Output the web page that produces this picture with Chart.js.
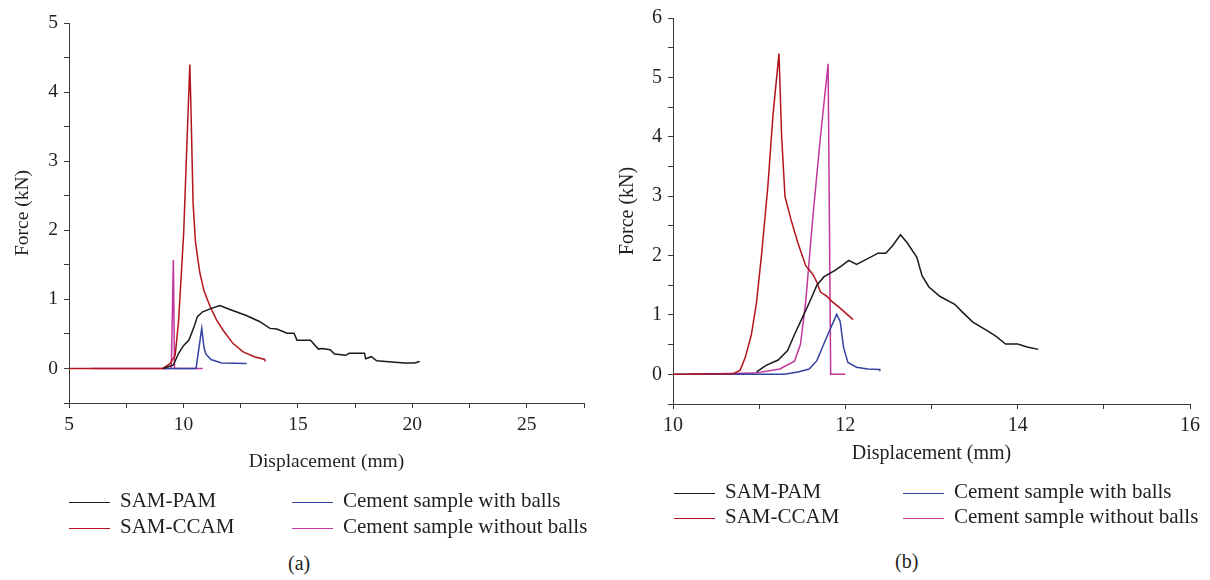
<!DOCTYPE html>
<html>
<head>
<meta charset="utf-8">
<script src="https://cdn.jsdelivr.net/npm/chart.js@4.4.0/dist/chart.umd.min.js"></script>
<style>
  body { margin: 0; background: #fff; width: 1210px; height: 580px; position: relative; overflow: hidden;
         font-family: "Liberation Serif", "DejaVu Serif", serif; color: #231f20; }
  canvas { position: absolute; top: 0; }
  .item { position: absolute; white-space: nowrap; }
  .swatch { position: absolute; height: 0; border-top: 1.5px solid; }
  .cap { position: absolute; white-space: nowrap; }
</style>
</head>
<body>
<canvas id="left" width="600" height="480" style="left:0"></canvas>
<canvas id="right" width="610" height="480" style="left:600px"></canvas>
<div class="cap" style="left:288px;top:552px;font-size:20px">(a)</div>
<div class="cap" style="left:895px;top:550px;font-size:20px">(b)</div>
<script>
// series names and colours
var names = ['SAM-PAM', 'SAM-CCAM', 'Cement sample with balls', 'Cement sample without balls'];
var colors = ['#1a1a1a', '#b3141c', '#3443a2', '#c2359a'];

// panel (a) - displacement (mm) / force (kN)
var pamAX = [9.11, 9.56, 9.79, 10.0, 10.24, 10.46, 10.61, 10.84, 11.22, 11.59, 11.97, 12.72, 13.32, 13.78, 14.08, 14.53, 14.83, 14.96, 15.55, 15.9, 16.06, 16.41, 16.6, 17.09, 17.24, 17.91, 17.96, 18.21, 18.44, 19.65, 20.1, 20.32];
var pamAY = [0, 0.05, 0.22, 0.33, 0.41, 0.6, 0.75, 0.82, 0.87, 0.91, 0.86, 0.77, 0.68, 0.58, 0.57, 0.51, 0.51, 0.41, 0.41, 0.28, 0.29, 0.27, 0.21, 0.19, 0.22, 0.22, 0.14, 0.17, 0.11, 0.08, 0.08, 0.1];
var ccamAX = [5, 9.11, 9.41, 9.64, 9.79, 10.01, 10.19, 10.28, 10.34, 10.42, 10.52, 10.62, 10.72, 10.9, 11.16, 11.45, 11.74, 12.17, 12.61, 13.1, 13.55, 13.58];
var ccamAY = [0, 0, 0.07, 0.19, 0.7, 1.96, 3.6, 4.4, 3.6, 2.4, 1.85, 1.6, 1.38, 1.12, 0.9, 0.7, 0.55, 0.36, 0.24, 0.17, 0.13, 0.1];
var withAX = [9.1, 10.55, 10.8, 10.9, 10.98, 11.2, 11.67, 12.76];
var withAY = [0, 0, 0.58, 0.3, 0.21, 0.13, 0.08, 0.07];
var withoutAX = [6, 9.47, 9.56, 9.61, 10.84];
var withoutAY = [0, 0, 1.57, 0, 0];

// panel (b)
var pamBX = [10.97, 11.08, 11.22, 11.33, 11.41, 11.5, 11.58, 11.67, 11.75, 11.88, 11.96, 12.04, 12.13, 12.21, 12.38, 12.47, 12.55, 12.64, 12.72, 12.83, 12.89, 12.97, 13.1, 13.27, 13.35, 13.48, 13.65, 13.75, 13.86, 14.0, 14.11, 14.24];
var pamBY = [0.04, 0.15, 0.24, 0.4, 0.67, 0.95, 1.2, 1.5, 1.64, 1.75, 1.83, 1.92, 1.85, 1.91, 2.04, 2.04, 2.17, 2.35, 2.21, 1.97, 1.66, 1.47, 1.31, 1.18, 1.06, 0.88, 0.73, 0.64, 0.51, 0.51, 0.46, 0.42];
var ccamBX = [10, 10.7, 10.78, 10.84, 10.91, 10.97, 11.03, 11.1, 11.16, 11.23, 11.26, 11.3, 11.37, 11.45, 11.54, 11.62, 11.67, 11.71, 11.79, 11.85, 11.92, 12.09];
var ccamBY = [0, 0.01, 0.07, 0.29, 0.67, 1.22, 2.05, 3.15, 4.36, 5.4, 4.03, 2.99, 2.6, 2.21, 1.83, 1.69, 1.55, 1.39, 1.31, 1.22, 1.14, 0.92];
var withBX = [10, 11.29, 11.45, 11.58, 11.67, 11.75, 11.83, 11.9, 11.94, 11.98, 12.03, 12.13, 12.26, 12.4, 12.4];
var withBY = [0, 0, 0.04, 0.09, 0.23, 0.51, 0.78, 1.01, 0.89, 0.45, 0.2, 0.12, 0.09, 0.08, 0.05];
var withoutBX = [10.2, 10.95, 11.24, 11.41, 11.48, 11.54, 11.62, 11.71, 11.8, 11.83, 12.0];
var withoutBY = [0, 0.02, 0.09, 0.22, 0.51, 1.22, 2.6, 3.98, 5.23, 0, 0];

function pts(xs, ys) {
  return xs.map(function (x, i) { return { x: x, y: ys[i] }; });
}

function makeChart(id, set, ax) {
  var axisColor = '#3a3a3a';
  var tickFont = { family: '"Liberation Serif", serif', size: ax.font };
  return new Chart(document.getElementById(id), {
    type: 'line',
    data: {
      datasets: set.map(function (s, i) {
        return { label: names[i], data: pts(s[0], s[1]), borderColor: colors[i], borderWidth: 1.5,
                 pointRadius: 0, tension: 0, fill: false };
      })
    },
    options: {
      responsive: false,
      animation: false,
      events: [],
      layout: { padding: { top: ax.top, right: ax.right, left: 0, bottom: 0 } },
      plugins: { legend: { display: false }, tooltip: { enabled: false } },
      scales: {
        x: {
          type: 'linear', min: ax.xMin, max: ax.xMax,
          afterFit: function (s) { s.height = ax.xH; },
          ticks: { stepSize: ax.xStep, autoSkip: false, maxRotation: 0, padding: 5, color: '#231f20', font: tickFont,
                   callback: function (v) { return Math.abs(v / ax.xLab - Math.round(v / ax.xLab)) < 1e-6 ? String(v) : ''; } },
          grid: { drawOnChartArea: false, tickLength: 5, color: axisColor },
          border: { color: axisColor, width: 1 },
          title: { display: true, text: 'Displacement (mm)', color: '#231f20', font: tickFont, padding: { top: 0, bottom: ax.xTitlePad } }
        },
        y: {
          min: -0.5, max: ax.yMax,
          afterFit: function (s) { s.width = ax.yW; },
          ticks: { stepSize: 0.5, autoSkip: false, padding: 6, color: '#231f20', font: tickFont,
                   callback: function (v) { return (Math.abs(v - Math.round(v)) < 1e-6) ? String(v) : ''; } },
          grid: { drawOnChartArea: false, tickLength: 5, color: axisColor },
          border: { color: axisColor, width: 1 },
          title: { display: true, text: 'Force (kN)', color: '#231f20', font: tickFont, padding: { top: ax.yTitlePad, bottom: 0 } }
        }
      }
    }
  });
}

makeChart('left', [[pamAX, pamAY], [ccamAX, ccamAY], [withAX, withAY], [withoutAX, withoutAY]],
  { xMin: 5, xMax: 27.5, xStep: 2.5, xLab: 5, yMax: 5, top: 23, right: 16, xH: 77, yW: 69, font: 19.5, xTitlePad: 6, yTitlePad: 11 });
makeChart('right', [[pamBX, pamBY], [ccamBX, ccamBY], [withBX, withBY], [withoutBX, withoutBY]],
  { xMin: 10, xMax: 16, xStep: 1, xLab: 2, yMax: 6, top: 12, right: 20, xH: 76, yW: 73, font: 20, xTitlePad: 14, yTitlePad: 16 });

// legends, two columns per panel
function legend(cols, rows, lineW, gap, size) {
  for (var i = 0; i < 4; i++) {
    var cx = cols[Math.floor(i / 2)], cy = rows[i % 2];
    var sw = document.createElement('div');
    sw.className = 'swatch';
    sw.style.cssText = 'left:' + cx + 'px;top:' + (cy - 1) + 'px;width:' + lineW + 'px;border-color:' + colors[i];
    document.body.appendChild(sw);
    var t = document.createElement('div');
    t.className = 'item';
    t.textContent = names[i];
    t.style.cssText = 'left:' + (cx + lineW + gap) + 'px;top:' + (cy - size * 0.62) + 'px;font-size:' + size + 'px;line-height:' + size + 'px';
    document.body.appendChild(t);
  }
}
legend([69, 292], [503, 529], 41, 10, 21);
legend([674, 903], [494, 519], 41, 10, 21);
</script>
</body>
</html>
